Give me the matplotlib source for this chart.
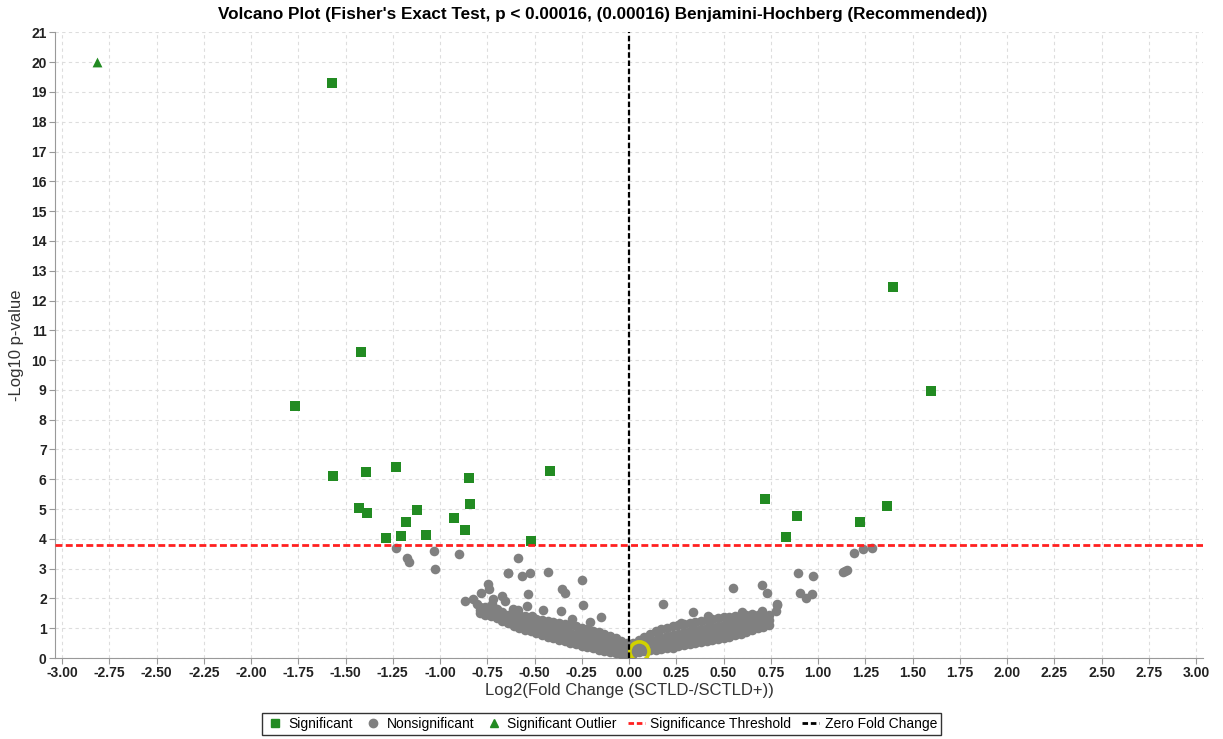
import matplotlib
matplotlib.use("Agg")
import matplotlib.pyplot as plt
from matplotlib.lines import Line2D
import numpy as np

plt.rcParams['font.family'] = ['Liberation Sans', 'DejaVu Sans']

# significant genes (green squares)
sig_x = [-1.571, 1.397, -1.418, 1.598, -1.767, -1.566, -1.392, -1.233, -0.418,
         -0.847, -0.841, 0.720, 1.365, -1.429, -1.386, -1.122, -0.926, 0.889,
         -1.180, 1.220, -0.868, -1.074, -1.206, -1.286, 0.831, -0.519]
sig_y = [19.30, 12.45, 10.27, 8.96, 8.46, 6.11, 6.24, 6.41, 6.28,
         6.04, 5.17, 5.34, 5.10, 5.03, 4.87, 4.97, 4.70, 4.77,
         4.56, 4.56, 4.30, 4.13, 4.09, 4.03, 4.06, 3.93]

# significant outlier (green triangle)
out_x = [-2.815]
out_y = [20.0]

# nonsignificant genes (grey circles): scattered ones
sparse_x = [-1.233, -1.176, -1.164, -1.032, -1.025, -0.901, -0.642, -0.744, -0.739,
            -0.783, -0.869, -0.824, -0.803, -0.721, -0.727, -0.762, -0.700, -0.674,
            -0.656, -0.586, -0.639, -0.568, -0.524, -0.430, -0.250, -0.353, -0.339,
            -0.533, -0.541, -0.612, -0.586, -0.242, -0.360, -0.453, -0.150, -0.515,
            0.182, 0.340, 0.549, 0.275, 0.705, 0.732, 0.892, 0.975, 0.905, 0.937,
            0.967, 1.131, 1.152, 0.785, 0.778, 0.702, 0.728, 0.676, 1.192, 1.236,
            1.284, 0.781, 1.140, 0.640, 0.614, -0.300, -0.205, 0.420, 0.600]
sparse_y = [3.69, 3.37, 3.22, 3.58, 2.98, 3.50, 2.86, 2.47, 2.30,
            2.19, 1.91, 1.97, 1.82, 1.97, 1.80, 1.63, 1.63, 2.08,
            1.91, 3.36, 2.84, 2.75, 2.84, 2.90, 2.62, 2.33, 2.19,
            2.14, 1.74, 1.65, 1.60, 1.78, 1.58, 1.61, 1.39, 1.41,
            1.82, 1.54, 2.36, 1.19, 2.44, 2.19, 2.86, 2.75, 2.19, 2.02,
            2.16, 2.90, 2.94, 1.80, 1.58, 1.58, 1.35, 1.24, 3.53, 3.65,
            3.70, 1.78, 2.92, 1.41, 1.13, 1.30, 1.22, 1.42, 1.56]

# nonsignificant genes: dense V-shaped band, read column by column
band_cols = [
    (-0.79, [1.52, 1.62, 1.72]),
    (-0.76, [1.45, 1.58, 1.70]),
    (-0.73, [1.40, 1.52, 1.66]),
    (-0.70, [1.34, 1.47, 1.62]),
    (-0.67, [1.25, 1.38, 1.55]),
    (-0.64, [1.16, 1.30, 1.46]),
    (-0.61, [1.08, 1.24, 1.42, 1.50]),
    (-0.58, [1.02, 1.18, 1.33, 1.46]),
    (-0.55, [0.95, 1.10, 1.27, 1.42]),
    (-0.52, [0.90, 1.04, 1.20, 1.38]),
    (-0.49, [0.85, 0.98, 1.14, 1.32]),
    (-0.46, [0.78, 0.93, 1.08, 1.28]),
    (-0.43, [0.72, 0.88, 1.04, 1.25]),
    (-0.40, [0.66, 0.82, 0.98, 1.20]),
    (-0.37, [0.61, 0.77, 0.94, 1.17]),
    (-0.34, [0.56, 0.72, 0.90, 1.14]),
    (-0.31, [0.51, 0.66, 0.85, 1.10]),
    (-0.28, [0.46, 0.62, 0.80, 1.06]),
    (-0.25, [0.41, 0.57, 0.76, 1.02]),
    (-0.22, [0.37, 0.52, 0.71, 0.98]),
    (-0.19, [0.32, 0.47, 0.66, 0.92]),
    (-0.16, [0.28, 0.42, 0.60, 0.86]),
    (-0.13, [0.24, 0.37, 0.55, 0.80]),
    (-0.10, [0.20, 0.32, 0.50, 0.74]),
    (-0.07, [0.16, 0.28, 0.44, 0.66]),
    (-0.04, [0.12, 0.24, 0.38, 0.58]),
    (-0.01, [0.10, 0.20, 0.33, 0.50]),
    (0.02, [0.14, 0.24, 0.36, 0.52]),
    (0.05, [0.20, 0.30, 0.42, 0.62]),
    (0.08, [0.24, 0.34, 0.48, 0.72]),
    (0.11, [0.26, 0.38, 0.55, 0.82]),
    (0.14, [0.27, 0.40, 0.62, 0.90]),
    (0.17, [0.29, 0.44, 0.68, 0.96]),
    (0.20, [0.32, 0.49, 0.73, 1.02]),
    (0.23, [0.35, 0.53, 0.78, 1.06]),
    (0.26, [0.39, 0.58, 0.82, 1.10]),
    (0.29, [0.43, 0.62, 0.86, 1.14]),
    (0.32, [0.47, 0.66, 0.90, 1.18]),
    (0.35, [0.51, 0.70, 0.94, 1.21]),
    (0.38, [0.54, 0.74, 0.98, 1.25]),
    (0.41, [0.58, 0.78, 1.02, 1.28]),
    (0.44, [0.61, 0.82, 1.05, 1.30]),
    (0.47, [0.64, 0.86, 1.08, 1.33]),
    (0.50, [0.68, 0.90, 1.12, 1.36]),
    (0.53, [0.72, 0.94, 1.16, 1.38]),
    (0.56, [0.77, 0.98, 1.20, 1.41]),
    (0.59, [0.82, 1.03, 1.24, 1.43]),
    (0.62, [0.88, 1.08, 1.28, 1.45]),
    (0.65, [0.95, 1.14, 1.32, 1.48]),
    (0.68, [1.00, 1.18, 1.36, 1.46]),
    (0.71, [1.04, 1.22, 1.40]),
    (0.74, [1.10, 1.28, 1.44]),
]

# highlighted gene near the origin (yellow ring)
hl_x = [0.055]
hl_y = [0.22]

threshold = 3.796

band_x = [c[0] for c in band_cols for _ in c[1]]
band_y = [v for c in band_cols for v in c[1]]

green = '#228b22'
grey = '#808080'

fig = plt.figure(figsize=(12.23, 7.39), dpi=100)
ax = fig.add_axes([0.045, 0.1096, 0.9387, 0.8474])

ax.scatter(band_x + sparse_x, band_y + sparse_y, s=48, color=grey, zorder=3, linewidths=0)
ax.scatter(hl_x, hl_y, s=190, facecolors='none', edgecolors='#d2d200', linewidths=2.6, zorder=3.5)
ax.scatter(sig_x, sig_y, s=42, marker='s', color=green, zorder=4, linewidths=0)
ax.scatter(out_x, out_y, s=50, marker='^', color=green, zorder=4, linewidths=0)

ax.axhline(threshold, color='#ff2020', lw=2, ls=(0, (2.5, 1.2)), zorder=5)
ax.axvline(0, color='black', lw=1.6, ls=(0, (2.5, 1.2)), zorder=5)

ax.set_xlim(-3.037, 3.037)
ax.set_ylim(0, 21.02)
ax.set_xticks(np.arange(-3, 3.01, 0.25))
ax.set_xticklabels([f'{v:.2f}' for v in np.arange(-3, 3.01, 0.25)])
ax.set_yticks(range(0, 22))
ax.grid(True, color='#dddddd', ls=(0, (3, 3)), lw=0.8)
ax.set_axisbelow(True)

for s in ['top', 'right']:
    ax.spines[s].set_visible(False)
for s in ['left', 'bottom']:
    ax.spines[s].set_color('#999999')
ax.tick_params(colors='#999999', length=4, labelcolor='#222222', labelsize=10, pad=2)
for lab in ax.get_xticklabels() + ax.get_yticklabels():
    lab.set_fontweight('bold')

ax.set_xlabel('Log2(Fold Change (SCTLD-/SCTLD+))', fontsize=12, color='#333333', labelpad=2)
ax.set_ylabel('-Log10 p-value', fontsize=12, color='#333333', labelpad=5)
fig.suptitle("Volcano Plot (Fisher's Exact Test, p < 0.00016, (0.00016) Benjamini-Hochberg (Recommended))",
             x=0.493, y=0.99, fontsize=12.3, fontweight='bold')

handles = [
    Line2D([], [], marker='s', color=green, ls='none', markersize=6),
    Line2D([], [], marker='o', color=grey, ls='none', markersize=6),
    Line2D([], [], marker='^', color=green, ls='none', markersize=6),
    Line2D([], [], color='#ff2020', lw=2, ls=(0, (2, 1))),
    Line2D([], [], color='black', lw=2, ls=(0, (2, 1))),
]
labels = ['Significant', 'Nonsignificant', 'Significant Outlier',
          'Significance Threshold', 'Zero Fold Change']
fig.legend(handles, labels, loc='center', bbox_to_anchor=(0.492, 0.02), ncol=5,
           fontsize=10, frameon=True, fancybox=False, edgecolor='#333333',
           handlelength=1.2, handletextpad=0.4, columnspacing=0.8,
           borderpad=0.3, framealpha=1)

fig.savefig('out.png', dpi=100)
